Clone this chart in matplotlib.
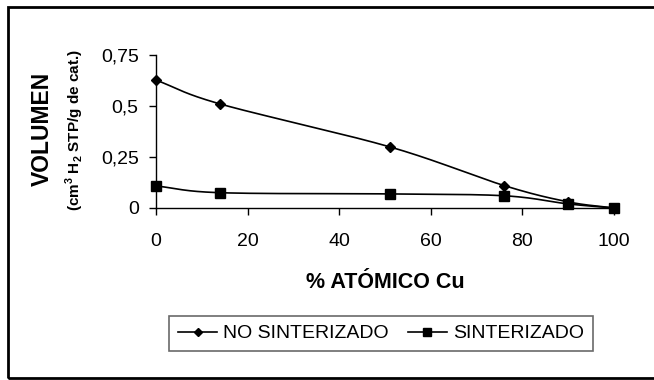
import numpy as np
import matplotlib
matplotlib.use("Agg")
import matplotlib.pyplot as plt
from matplotlib.patches import Rectangle
from matplotlib.lines import Line2D

plt.rcParams['font.family'] = ['Liberation Sans', 'DejaVu Sans']
plt.rcParams['mathtext.fontset'] = 'custom'
plt.rcParams['mathtext.rm'] = 'Liberation Sans:bold'
plt.rcParams['mathtext.bf'] = 'Liberation Sans:bold'

# data
cu_pct = [0, 14, 51, 76, 90, 100]
no_sinterizado = [0.627, 0.51, 0.30, 0.11, 0.03, 0.0]
sinterizado = [0.108, 0.075, 0.069, 0.06, 0.02, 0.0]
y_ticks = [0, 0.25, 0.5, 0.75]
y_ticklabels = ['0', '0,25', '0,5', '0,75']
x_ticks = [0, 20, 40, 60, 80, 100]


def smooth(x, y, n=30):
    # catmull-rom curve through the points, like the spreadsheet "smoothed line"
    x = np.asarray(x, float)
    y = np.asarray(y, float)
    px = np.concatenate([[2 * x[0] - x[1]], x, [2 * x[-1] - x[-2]]])
    py = np.concatenate([[2 * y[0] - y[1]], y, [2 * y[-1] - y[-2]]])
    xs, ys = [], []
    t = np.linspace(0, 1, n)
    for i in range(1, len(px) - 2):
        for p, out in ((px, xs), (py, ys)):
            p0, p1, p2, p3 = p[i - 1], p[i], p[i + 1], p[i + 2]
            out.extend(0.5 * (2 * p1 + (-p0 + p2) * t
                              + (2 * p0 - 5 * p1 + 4 * p2 - p3) * t ** 2
                              + (-p0 + 3 * p1 - 3 * p2 + p3) * t ** 3))
    return np.array(xs), np.array(ys)


fig = plt.figure(figsize=(6.54, 3.80), dpi=100)
ax = fig.add_axes([156 / 654, 1 - 208 / 380, (614 - 156) / 654, (208 - 55) / 380])

for yv, mk, ms in ((no_sinterizado, 'D', 5.5), (sinterizado, 's', 6.5)):
    sx, sy = smooth(cu_pct, yv)
    ax.plot(sx, sy, color='black', lw=1.2, clip_on=False)
    ax.plot(cu_pct, yv, ls='none', marker=mk, ms=ms, color='black', clip_on=False)

ax.set_xlim(0, 100)
ax.set_ylim(0, 0.75)
ax.set_xticks(x_ticks)
ax.set_yticks(y_ticks)
ax.set_yticklabels(y_ticklabels)
ax.tick_params(labelsize=14, length=5, width=1, direction='out')
ax.tick_params(axis='x', pad=13)
ax.tick_params(axis='y', pad=7.5)
ax.spines['top'].set_visible(False)
ax.spines['right'].set_visible(False)
ax.spines['left'].set_linewidth(1)
ax.spines['bottom'].set_linewidth(1)

ax.set_xlabel('% ATÓMICO Cu', fontsize=15.5, fontweight='bold', labelpad=16)
fig.text(42 / 654, 1 - 129 / 380, 'VOLUMEN', rotation=90, fontsize=16.5,
         fontweight='bold', ha='center', va='center')
fig.text(75 / 654, 1 - 130 / 380, r'(cm$^{3}$ H$_{2}$ STP/g de cat.)', rotation=90,
         fontsize=11, fontweight='bold', ha='center', va='center')

handles = [Line2D([], [], color='black', lw=1.2, marker='D', ms=4.5),
           Line2D([], [], color='black', lw=1.2, marker='s', ms=5.5)]
leg = fig.legend(handles, ['NO SINTERIZADO', 'SINTERIZADO'], ncol=2,
                 loc='center', bbox_to_anchor=(381 / 654, 1 - 333.5 / 380),
                 fontsize=14, frameon=True, fancybox=False, handlelength=2,
                 columnspacing=1.0, handletextpad=0.3, borderpad=0.45)
leg.get_frame().set_edgecolor('#444444')
leg.get_frame().set_linewidth(1.2)

fig.patches.append(Rectangle((8 / 654, 2 / 380), 1.0, 371 / 380, transform=fig.transFigure,
                             fill=False, edgecolor='black', lw=2))

fig.savefig('out.png', dpi=100)
